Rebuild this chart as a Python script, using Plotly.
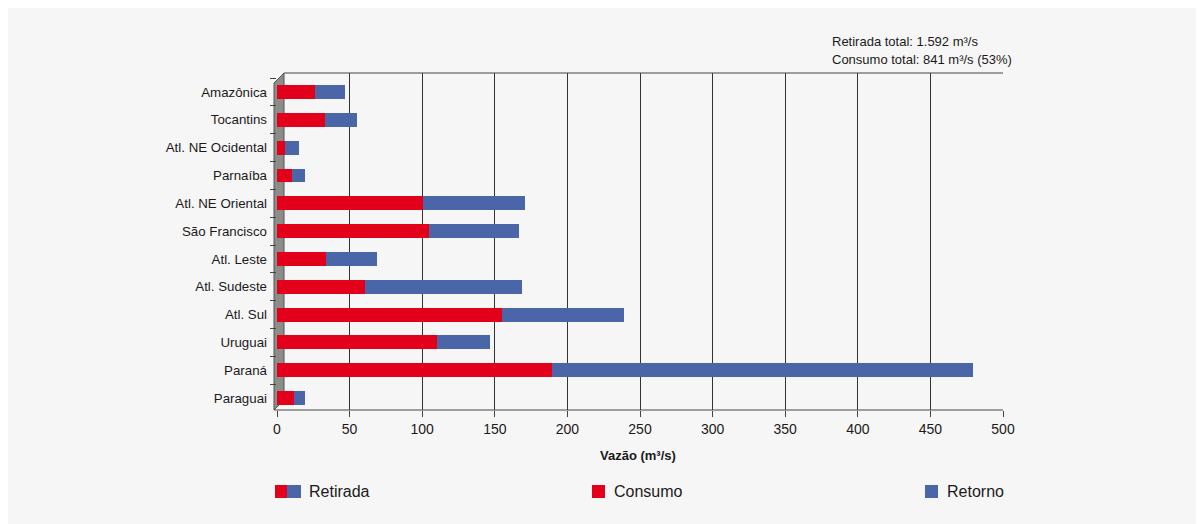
import plotly.graph_objects as go

regioes = ['Amazônica', 'Tocantins', 'Atl. NE Ocidental', 'Parnaíba', 'Atl. NE Oriental',
           'São Francisco', 'Atl. Leste', 'Atl. Sudeste', 'Atl. Sul', 'Uruguai', 'Paraná', 'Paraguai']
consumo = [26.2, 33.0, 5.5, 10.3, 100.8, 104.9, 33.7, 60.8, 154.7, 110.2, 189.4, 11.7]
retirada = [46.8, 54.9, 15.4, 19.5, 170.8, 166.5, 68.7, 168.7, 239.0, 146.7, 479.0, 19.5]
retorno = [round(r - c, 1) for r, c in zip(retirada, consumo)]
x_ticks = [0, 50, 100, 150, 200, 250, 300, 350, 400, 450, 500]

RED = '#e2001a'
BLUE = '#4a66a9'
BG = '#f6f6f6'
FONT = 'Liberation Sans, Arial, sans-serif'
OFF = 8  # page body margin
W, H = 1204 - OFF, 524 - OFF
L, R, T, B = 277, 1003, 73, 410  # plot area, page pixels


def px(x):
    return (x - L) / (R - L)


def py(y):
    return (B - y) / (B - T)


fig = go.Figure()
fig.add_trace(go.Bar(y=regioes, x=consumo, name='Consumo', orientation='h',
                     marker=dict(color=RED, line=dict(width=0)), width=0.5))
fig.add_trace(go.Bar(y=regioes, x=retorno, name='Retorno', orientation='h',
                     marker=dict(color=BLUE, line=dict(width=0)), width=0.5))

shapes = [
    # grey side wall
    dict(type='path', xref='paper', yref='paper',
         path=f'M {px(274)},{py(83)} L {px(284)},{py(73)} L {px(284)},{py(400)} L {px(274)},{py(410)} Z',
         fillcolor='#8c8c88', line=dict(color='#555555', width=1), layer='below'),
    # top line of the back wall
    dict(type='line', xref='paper', yref='paper', x0=px(284), x1=1, y0=1, y1=1,
         line=dict(color='#444444', width=1)),
    # front axis line
    dict(type='line', xref='paper', yref='paper', x0=px(274), x1=1, y0=0, y1=0,
         line=dict(color='#444444', width=1)),
    # legend swatches
    dict(type='rect', xref='paper', yref='paper', x0=px(275), x1=px(287), y0=py(498), y1=py(485),
         fillcolor=RED, line=dict(width=0)),
    dict(type='rect', xref='paper', yref='paper', x0=px(287), x1=px(301), y0=py(498), y1=py(485),
         fillcolor=BLUE, line=dict(width=0)),
    dict(type='rect', xref='paper', yref='paper', x0=px(592), x1=px(605), y0=py(498), y1=py(485),
         fillcolor=RED, line=dict(width=0)),
    dict(type='rect', xref='paper', yref='paper', x0=px(925), x1=px(938), y0=py(498), y1=py(485),
         fillcolor=BLUE, line=dict(width=0)),
]

annotations = [
    dict(text='Retirada total: 1.592 m³/s', x=px(830), y=py(41), xanchor='left', yanchor='middle',
         font=dict(size=13)),
    dict(text='Consumo total: 841 m³/s (53%)', x=px(830), y=py(60), xanchor='left', yanchor='middle',
         font=dict(size=13)),
    dict(text='<b>Vazão (m³/s)</b>', x=px(638), y=py(455), xanchor='center', yanchor='middle',
         font=dict(size=13)),
    dict(text='Retirada', x=px(307), y=py(491), xanchor='left', yanchor='middle', font=dict(size=16)),
    dict(text='Consumo', x=px(612), y=py(491), xanchor='left', yanchor='middle', font=dict(size=16)),
    dict(text='Retorno', x=px(945), y=py(491), xanchor='left', yanchor='middle', font=dict(size=16)),
]
for a in annotations:
    a.update(xref='paper', yref='paper', showarrow=False)

fig.update_layout(
    width=W, height=H,
    margin=dict(l=L - OFF, r=1204 - R, t=T - OFF, b=524 - B, pad=0),
    paper_bgcolor=BG, plot_bgcolor=BG,
    font=dict(family=FONT, color='#1a1a1a'),
    barmode='stack', showlegend=False,
    shapes=shapes, annotations=annotations,
    xaxis=dict(range=[0, 500], tickvals=x_ticks, showgrid=True, gridcolor='#333333', gridwidth=1,
               zeroline=False, showline=False, ticks='outside', ticklen=6, tickcolor='#444444',
               tickfont=dict(size=14)),
    yaxis=dict(categoryorder='array', categoryarray=regioes, range=[11.431, -0.683],
               showgrid=False, zeroline=False, showline=False, ticks='outside', ticklen=6,
               tickcolor='#444444', tickson='boundaries', ticklabelstandoff=9,
               tickfont=dict(size=13.3)),
)

fig.write_html('out.html')
